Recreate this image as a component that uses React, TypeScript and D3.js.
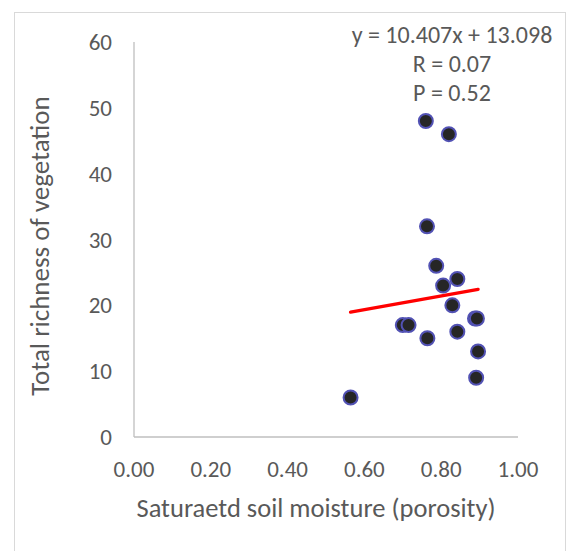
import { useEffect, useRef } from 'react'
import * as d3 from 'd3'

// saturated soil moisture (porosity) vs total richness of vegetation
const moisture = [0.76, 0.82, 0.763, 0.787, 0.842, 0.805, 0.829, 0.888, 0.893, 0.7, 0.715, 0.764, 0.842, 0.896, 0.891, 0.564]
const richness = [48, 46, 32, 26, 24, 23, 20, 18, 18, 17, 17, 15, 16, 13, 9, 6]

const xTicks = [0, 0.2, 0.4, 0.6, 0.8, 1.0]
const yTicks = [0, 10, 20, 30, 40, 50, 60]

const slope = 10.407
const intercept = 13.098
const statLines = ['y = 10.407x + 13.098', 'R = 0.07', 'P = 0.52']

const WIDTH = 570
const HEIGHT = 551
const FONT = 'Carlito, Calibri, Lato, sans-serif'
const TEXT_COLOR = '#595959'

export default function App() {
  const svgRef = useRef<SVGSVGElement | null>(null)

  useEffect(() => {
    if (!svgRef.current) {
      return
    }

    const svg = d3.select(svgRef.current)
    svg.selectAll('*').remove()

    const x = d3.scaleLinear().domain([0, 1]).range([134, 518])
    const y = d3.scaleLinear().domain([0, 60]).range([437, 42])

    // chart area border
    svg
      .append('rect')
      .attr('x', 14.5)
      .attr('y', 12.5)
      .attr('width', 551)
      .attr('height', 560)
      .attr('fill', '#ffffff')
      .attr('stroke', '#d9d9d9')

    // axes
    svg
      .append('line')
      .attr('x1', x(0))
      .attr('x2', x(0))
      .attr('y1', y(60))
      .attr('y2', y(0))
      .attr('stroke', '#bfbfbf')
      .attr('stroke-width', 1.3)

    svg
      .append('line')
      .attr('x1', x(0))
      .attr('x2', x(1))
      .attr('y1', y(0))
      .attr('y2', y(0))
      .attr('stroke', '#bfbfbf')
      .attr('stroke-width', 1.3)

    svg
      .selectAll('text.y-tick')
      .data(yTicks)
      .enter()
      .append('text')
      .attr('class', 'y-tick')
      .attr('x', 112)
      .attr('y', (d: number) => y(d))
      .attr('dy', '0.35em')
      .attr('text-anchor', 'end')
      .attr('font-family', FONT)
      .attr('font-size', 23)
      .attr('fill', TEXT_COLOR)
      .text((d: number) => String(d))

    svg
      .selectAll('text.x-tick')
      .data(xTicks)
      .enter()
      .append('text')
      .attr('class', 'x-tick')
      .attr('x', (d: number) => x(d))
      .attr('y', 469)
      .attr('dy', '0.35em')
      .attr('text-anchor', 'middle')
      .attr('font-family', FONT)
      .attr('font-size', 23)
      .attr('fill', TEXT_COLOR)
      .text((d: number) => d3.format('.2f')(d))

    svg
      .append('text')
      .attr('x', 316)
      .attr('y', 508)
      .attr('dy', '0.35em')
      .attr('text-anchor', 'middle')
      .attr('font-family', FONT)
      .attr('font-size', 26.5)
      .attr('fill', TEXT_COLOR)
      .text('Saturaetd soil moisture (porosity)')

    svg
      .append('text')
      .attr('transform', 'translate(40, 246) rotate(-90)')
      .attr('dy', '0.35em')
      .attr('text-anchor', 'middle')
      .attr('font-family', FONT)
      .attr('font-size', 27)
      .attr('fill', TEXT_COLOR)
      .text('Total richness of vegetation')

    // trend line over the x range of the data
    const [xMin, xMax] = d3.extent(moisture) as [number, number]
    svg
      .append('line')
      .attr('x1', x(xMin))
      .attr('y1', y(slope * xMin + intercept))
      .attr('x2', x(xMax))
      .attr('y2', y(slope * xMax + intercept))
      .attr('stroke', '#ff0000')
      .attr('stroke-width', 3.4)
      .attr('stroke-linecap', 'round')

    svg
      .append('g')
      .selectAll('circle')
      .data(moisture.map((m, i) => ({ m, r: richness[i] })))
      .enter()
      .append('circle')
      .attr('cx', (d: { m: number; r: number }) => x(d.m))
      .attr('cy', (d: { m: number; r: number }) => y(d.r))
      .attr('r', 7)
      .attr('fill', '#262626')
      .attr('stroke', '#5252b4')
      .attr('stroke-width', 2)

    svg
      .selectAll('text.stat')
      .data(statLines)
      .enter()
      .append('text')
      .attr('class', 'stat')
      .attr('x', 452)
      .attr('y', (_: string, i: number) => 35 + i * 29)
      .attr('dy', '0.35em')
      .attr('text-anchor', 'middle')
      .attr('font-family', FONT)
      .attr('font-size', 24)
      .attr('fill', TEXT_COLOR)
      .text((d: string) => d)
  }, [])

  return (
    <svg
      ref={svgRef}
      width={WIDTH}
      height={HEIGHT}
      style={{ position: 'absolute', left: 0, top: 0 }}
    />
  )
}
